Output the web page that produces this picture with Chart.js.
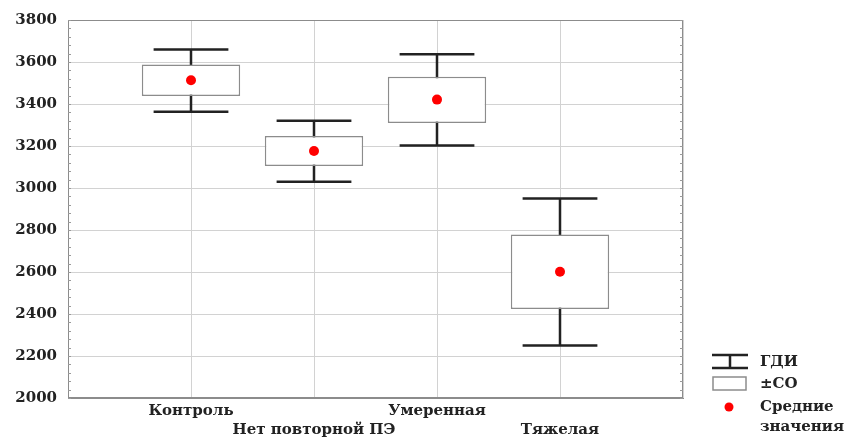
<!DOCTYPE html>
<html lang="ru">
<head>
<meta charset="utf-8">
<title>Масса тела новорождённых по группам</title>
<script src="https://cdn.jsdelivr.net/npm/chart.js@4.4.1/dist/chart.umd.min.js"></script>
<style>
  html, body { margin: 0; padding: 0; background: #fff; }
  #wrap { width: 849px; height: 439px; position: relative; }
</style>
</head>
<body>
<div id="wrap"><canvas id="chart" width="849" height="439"></canvas></div>
<script>
// Groups (placed at x = 1..4 on the horizontal scale)
const groups = ['Контроль', 'Нет повторной ПЭ', 'Умеренная', 'Тяжелая'];
const groupPos = [1, 2, 3, 4];

// Mean values per group
const means = [3513, 3176, 3421, 2601];
// ±СО box limits
const sdLow  = [3438, 3105, 3310, 2424];
const sdHigh = [3588, 3248, 3530, 2778];
// ГДИ whisker limits
const ciLow  = [3363, 3030, 3202, 2250];
const ciHigh = [3660, 3320, 3637, 2950];

// Value axis ticks
const yTicks = [2000, 2200, 2400, 2600, 2800, 3000, 3200, 3400, 3600, 3800];

const legendLabels = { ci: 'ГДИ', sd: '±СО', mean: ['Средние', 'значения'] };

const serif = '"DejaVu Serif", "Liberation Serif", serif';
const textColor = '#222';

// Whiskers: vertical line from low to high with caps, drawn under the boxes
const whiskerPlugin = {
  id: 'whiskers',
  beforeDatasetsDraw(chart) {
    const { ctx, scales: { x, y } } = chart;
    const boxMeta = chart.getDatasetMeta(0);
    ctx.save();
    ctx.strokeStyle = '#222';
    ctx.lineWidth = 2.5;
    groupPos.forEach((p, i) => {
      const cx = x.getPixelForValue(p);
      const bar = boxMeta.data[i];
      const half = bar ? bar.width * 0.38 : 37;
      const yTop = y.getPixelForValue(ciHigh[i]);
      const yBot = y.getPixelForValue(ciLow[i]);
      ctx.beginPath();
      ctx.moveTo(cx, yTop); ctx.lineTo(cx, yBot);
      ctx.moveTo(cx - half, yTop); ctx.lineTo(cx + half, yTop);
      ctx.moveTo(cx - half, yBot); ctx.lineTo(cx + half, yBot);
      ctx.stroke();
    });
    ctx.restore();
  }
};

// Frame and minor ticks on the left and right edges
const framePlugin = {
  id: 'frame',
  afterDatasetsDraw(chart) {
    const { ctx, chartArea: a, scales: { y } } = chart;
    ctx.save();
    ctx.strokeStyle = '#8c8c8c';
    ctx.lineWidth = 1;
    ctx.strokeRect(a.left + 0.5, a.top + 0.5, a.right - a.left - 1, a.bottom - a.top - 1);
    ctx.strokeStyle = '#9a9a9a';
    ctx.beginPath();
    for (let v = y.min; v <= y.max; v += 40) {
      const py = Math.round(y.getPixelForValue(v)) + 0.5;
      ctx.moveTo(a.left, py); ctx.lineTo(a.left + 3, py);
      ctx.moveTo(a.right, py); ctx.lineTo(a.right - 3, py);
    }
    ctx.stroke();
    ctx.restore();
  }
};

// Legend in the lower right corner
const legendPlugin = {
  id: 'sideLegend',
  afterDraw(chart) {
    const { ctx } = chart;
    ctx.save();
    // whisker symbol
    ctx.strokeStyle = '#222';
    ctx.lineWidth = 2.5;
    ctx.beginPath();
    ctx.moveTo(712, 355); ctx.lineTo(748, 355);
    ctx.moveTo(712, 368); ctx.lineTo(748, 368);
    ctx.moveTo(730, 355); ctx.lineTo(730, 368);
    ctx.stroke();
    // box symbol
    ctx.strokeStyle = '#8c8c8c';
    ctx.lineWidth = 1.5;
    ctx.fillStyle = '#fff';
    ctx.fillRect(713, 377, 33, 13);
    ctx.strokeRect(713, 377, 33, 13);
    // mean symbol
    ctx.fillStyle = '#ff0000';
    ctx.beginPath();
    ctx.arc(729, 407, 4.5, 0, Math.PI * 2);
    ctx.fill();
    // texts
    ctx.fillStyle = textColor;
    ctx.font = 'bold 15px ' + serif;
    ctx.textBaseline = 'middle';
    ctx.textAlign = 'left';
    ctx.fillText(legendLabels.ci, 760, 362);
    ctx.fillText(legendLabels.sd, 760, 384);
    ctx.fillText(legendLabels.mean[0], 760, 407);
    ctx.fillText(legendLabels.mean[1], 760, 427);
    ctx.restore();
  }
};

new Chart(document.getElementById('chart'), {
  data: {
    datasets: [
      {
        type: 'bar',
        label: legendLabels.sd,
        data: groupPos.map((p, i) => ({ x: p, y: [sdLow[i], sdHigh[i]] })),
        backgroundColor: '#ffffff',
        borderColor: '#8c8c8c',
        borderWidth: 1.5,
        borderSkipped: false,
        barPercentage: 0.8,
        categoryPercentage: 1,
        grouped: false,
        order: 1
      },
      {
        type: 'scatter',
        label: legendLabels.mean.join(' '),
        data: groupPos.map((p, i) => ({ x: p, y: means[i] })),
        backgroundColor: '#ff0000',
        borderWidth: 0,
        pointRadius: 5,
        pointHoverRadius: 5,
        order: 0
      }
    ]
  },
  options: {
    responsive: false,
    animation: false,
    layout: { padding: { left: 0, top: 20, right: 166, bottom: 0 } },
    plugins: { legend: { display: false }, tooltip: { enabled: false } },
    scales: {
      x: {
        type: 'linear',
        min: 0, max: 5,
        offset: false,
        afterBuildTicks(scale) {
          scale.ticks = [0, 1, 2, 3, 4, 5].map(v => ({ value: v }));
        },
        afterFit(scale) { scale.height = 41; },
        grid: { color: '#d2d2d2', lineWidth: 1, drawTicks: false, offset: false },
        border: { color: '#8c8c8c', width: 1 },
        ticks: {
          padding: 4,
          maxRotation: 0,
          autoSkip: false,
          color: textColor,
          font: { family: serif, size: 15, weight: 'bold', lineHeight: 1.27 },
          callback(v) {
            const i = groupPos.indexOf(v);
            if (i < 0) return '';
            return i % 2 === 0 ? [groups[i], ''] : ['', groups[i]];
          }
        }
      },
      y: {
        type: 'linear',
        min: yTicks[0], max: yTicks[yTicks.length - 1],
        afterBuildTicks(scale) {
          scale.ticks = yTicks.map(v => ({ value: v }));
        },
        afterFit(scale) { scale.width = 68; },
        grid: { color: '#d2d2d2', lineWidth: 1, drawTicks: false },
        border: { color: '#8c8c8c', width: 1 },
        ticks: {
          padding: 11,
          color: textColor,
          font: { family: serif, size: 15, weight: 'bold' },
          callback: v => String(v)
        }
      }
    }
  },
  plugins: [whiskerPlugin, framePlugin, legendPlugin]
});
</script>
</body>
</html>
